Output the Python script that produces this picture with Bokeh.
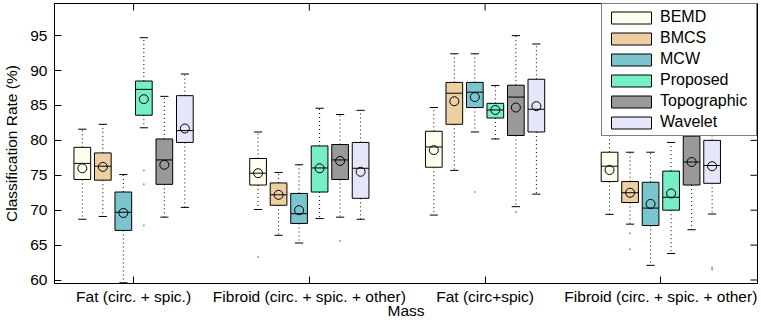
import math
from bokeh.plotting import figure
from bokeh.models import Range1d, FixedTicker, ColumnDataSource
from bokeh.embed import file_html
from bokeh.resources import INLINE

groups = ["Fat (circ. + spic.)", "Fibroid (circ. + spic. + other)",
          "Fat (circ+spic)", "Fibroid (circ. + spic. + other)"]
methods = ["BEMD", "BMCS", "MCW", "Proposed", "Topographic", "Wavelet"]
colors = ["#FFFFF0", "#EECFA1", "#7AC5CD", "#76EEC6", "#999999", "#E6E6FA"]
y_ticks = [60, 65, 70, 75, 80, 85, 90, 95]
x_ticks = [1, 2, 3, 4]

# one row per method, one value per group
upper_whisker = [
    [81.6, 81.2, 84.7, 80.8],
    [82.3, 75.4, 92.4, 78.3],
    [75.1, 76.5, 92.4, 78.3],
    [94.7, 84.6, 87.85, 79.7],
    [86.3, 83.7, 95.0, 86.0],
    [89.5, 84.3, 93.8, 84.5],
]
q3 = [
    [79.0, 77.4, 81.3, 78.3],
    [78.2, 73.9, 88.3, 74.1],
    [72.6, 72.4, 88.3, 74.0],
    [88.5, 79.2, 85.3, 75.6],
    [80.2, 79.4, 87.9, 80.6],
    [86.4, 79.7, 88.75, 80.0],
]
median = [
    [76.7, 75.3, 79.05, 76.3],
    [76.3, 72.2, 86.75, 72.5],
    [69.7, 69.5, 86.9, 70.3],
    [87.3, 76.05, 84.35, 71.85],
    [77.2, 77.2, 86.2, 76.9],
    [81.4, 76.0, 84.45, 76.4],
]
q1 = [
    [74.4, 73.6, 76.15, 74.1],
    [74.3, 70.7, 82.3, 71.1],
    [67.1, 68.1, 84.7, 67.8],
    [83.6, 72.6, 83.2, 70.0],
    [73.7, 74.4, 80.7, 73.6],
    [79.7, 71.7, 81.2, 73.85],
]
lower_whisker = [
    [68.7, 70.1, 69.3, 69.4],
    [69.1, 66.4, 75.7, 68.0],
    [59.6, 65.3, 81.2, 62.1],
    [81.8, 68.8, 80.2, 63.8],
    [69.0, 69.0, 70.5, 67.2],
    [70.4, 68.7, 72.3, 69.45],
]
mean = [
    [76.0, 75.3, 78.6, 75.75],
    [76.2, 72.2, 85.6, 72.5],
    [69.6, 70.0, 86.2, 70.9],
    [85.9, 76.0, 84.35, 72.4],
    [76.5, 77.05, 84.7, 76.9],
    [81.7, 75.5, 84.9, 76.3],
]
outlier_method = [3, 3, 3, 0, 4, 2, 4, 1, 1, 5, 5]
outlier_group = [0, 0, 0, 1, 1, 2, 2, 3, 3, 3, 3]
outlier_value = [75.7, 73.7, 67.8, 63.3, 65.6, 72.6, 69.7, 66.7, 64.4, 61.8, 61.5]

FONT = "Liberation Sans"
FS = "15.5px"
STEP = 0.1167
BOX_W = 0.095
CAP_W = 0.047
X_LO, X_HI = 0.55, 4.55
Y_LO, Y_HI = 59.5, 99.6


def xpos(g, m):
    return (g + 1) + (m - 2.5) * STEP


p = figure(width=761, height=326,
           x_range=Range1d(X_LO, X_HI), y_range=Range1d(Y_LO, Y_HI),
           output_backend="svg", toolbar_location=None,
           min_border_left=51, min_border_right=4,
           min_border_top=3, min_border_bottom=43)
p.background_fill_color = "white"
p.border_fill_color = "white"
p.outline_line_color = "black"
p.outline_line_width = 1
p.xgrid.grid_line_color = None
p.ygrid.grid_line_color = None

for m, name in enumerate(methods):
    xs = [xpos(g, m) for g in range(len(groups))]
    src = ColumnDataSource(dict(
        x=xs, hi=upper_whisker[m], q3=q3[m], med=median[m], q1=q1[m],
        lo=lower_whisker[m], mean=mean[m],
        xl=[x - BOX_W / 2 for x in xs], xr=[x + BOX_W / 2 for x in xs],
        cl=[x - CAP_W / 2 for x in xs], cr=[x + CAP_W / 2 for x in xs],
    ))
    p.segment(x0="x", y0="q3", x1="x", y1="hi", source=src,
              line_color="black", line_width=1, line_dash="1 3")
    p.segment(x0="x", y0="q1", x1="x", y1="lo", source=src,
              line_color="black", line_width=1, line_dash="1 3")
    p.segment(x0="cl", y0="hi", x1="cr", y1="hi", source=src,
              line_color="black", line_width=1)
    p.segment(x0="cl", y0="lo", x1="cr", y1="lo", source=src,
              line_color="black", line_width=1)
    p.vbar(x="x", width=BOX_W, top="q3", bottom="q1", source=src,
           fill_color=colors[m], line_color="black", line_width=1,
           legend_label=name)
    p.segment(x0="xl", y0="med", x1="xr", y1="med", source=src,
              line_color="black", line_width=1)
    p.scatter(x="x", y="mean", source=src, marker="circle", size=9,
              fill_color=None, line_color="black", line_width=1)

ox = [xpos(g, m) for g, m in zip(outlier_group, outlier_method)]
p.scatter(x=ox, y=outlier_value, marker="circle", size=2,
          fill_color="#999999", line_color=None)

# inward tick marks on the top and right edges of the box
p.ray(x=x_ticks, y=[Y_HI] * len(x_ticks), length=7, length_units="screen",
      angle=-math.pi / 2, line_color="black", line_width=1)
p.ray(x=[X_HI] * len(y_ticks), y=y_ticks, length=7, length_units="screen",
      angle=math.pi, line_color="black", line_width=1)

# axes
xa = p.xaxis[0]
xa.ticker = FixedTicker(ticks=x_ticks)
xa.major_label_overrides = {i + 1: g for i, g in enumerate(groups)}
xa.axis_label = "Mass"
ya = p.yaxis[0]
ya.ticker = FixedTicker(ticks=y_ticks)
ya.axis_label = "Classification Rate (%)"
for ax in (xa, ya):
    ax.major_tick_in = 7
    ax.major_tick_out = 0
    ax.minor_tick_line_color = None
    ax.axis_line_color = "black"
    ax.major_tick_line_color = "black"
    ax.major_label_text_font = FONT
    ax.major_label_text_font_size = FS
    ax.major_label_text_color = "black"
    ax.axis_label_text_font = FONT
    ax.axis_label_text_font_size = FS
    ax.axis_label_text_font_style = "normal"
    ax.axis_label_text_color = "black"
xa.major_label_standoff = 4
xa.axis_label_standoff = -6
ya.major_label_standoff = 7
ya.axis_label_standoff = 7

lg = p.legend[0]
lg.location = "top_right"
lg.margin = 0
lg.padding = 4
lg.spacing = 3
lg.glyph_width = 50
lg.glyph_height = 15
lg.label_height = 15
lg.label_width = 92
lg.label_standoff = 4
lg.label_text_font = FONT
lg.label_text_font_size = "16px"
lg.label_text_color = "black"
lg.border_line_color = "black"
lg.border_line_width = 1
lg.background_fill_color = "white"
lg.background_fill_alpha = 1

open("out.html", "w").write(file_html(p, INLINE))
